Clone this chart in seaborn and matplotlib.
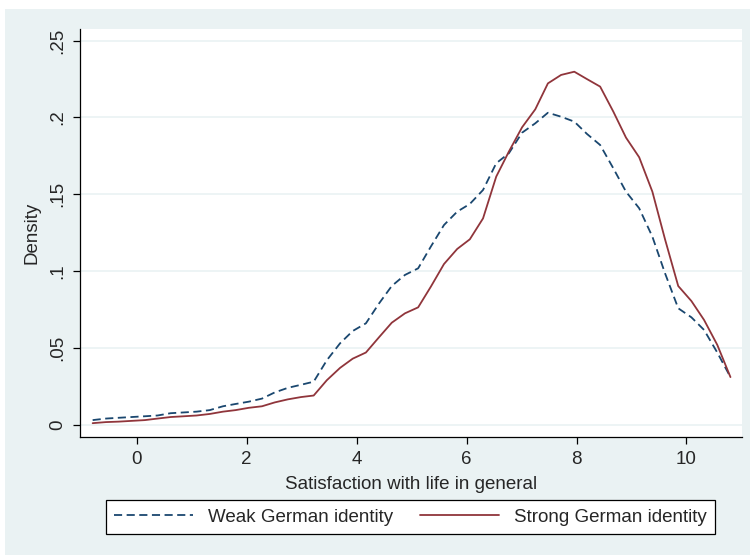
import pandas as pd
import matplotlib.pyplot as plt
import matplotlib.patches as mpatches
import seaborn as sns

# kernel density estimates (50 evaluation points)
x_points = [-0.80, -0.56, -0.33, -0.09, 0.15, 0.38, 0.62, 0.86, 1.09, 1.33,
            1.57, 1.80, 2.04, 2.28, 2.51, 2.75, 2.99, 3.22, 3.46, 3.70,
            3.93, 4.17, 4.41, 4.64, 4.88, 5.12, 5.35, 5.59, 5.83, 6.06,
            6.30, 6.54, 6.77, 7.01, 7.25, 7.48, 7.72, 7.96, 8.19, 8.43,
            8.67, 8.90, 9.14, 9.38, 9.61, 9.85, 10.09, 10.32, 10.56, 10.80]

weak_density = [0.003, 0.004, 0.0045, 0.005, 0.0055, 0.006, 0.0075, 0.008, 0.0085, 0.0095,
                0.012, 0.0135, 0.015, 0.017, 0.021, 0.024, 0.026, 0.028, 0.042, 0.053,
                0.061, 0.066, 0.079, 0.0903, 0.0975, 0.1018, 0.1159, 0.130, 0.1387, 0.1437,
                0.1528, 0.1702, 0.1767, 0.1901, 0.1962, 0.2031, 0.2005, 0.1973, 0.1893, 0.1821,
                0.1669, 0.1517, 0.1409, 0.1224, 0.0986, 0.0758, 0.0699, 0.0617, 0.047, 0.031]

strong_density = [0.001, 0.0017, 0.002, 0.0025, 0.003, 0.004, 0.005, 0.0055, 0.006, 0.007,
                  0.0085, 0.0095, 0.011, 0.012, 0.0145, 0.0165, 0.018, 0.019, 0.029, 0.037,
                  0.043, 0.047, 0.057, 0.0664, 0.0725, 0.0764, 0.0898, 0.1046, 0.1144, 0.1207,
                  0.1343, 0.1615, 0.1778, 0.1936, 0.2053, 0.2222, 0.2277, 0.2298, 0.225, 0.2201,
                  0.2038, 0.1869, 0.1741, 0.1517, 0.1207, 0.0903, 0.0805, 0.0682, 0.052, 0.031]

groups = ["Weak German identity", "Strong German identity"]
x_ticks = [0, 2, 4, 6, 8, 10]
y_ticks = [0, 0.05, 0.1, 0.15, 0.2, 0.25]
y_tick_labels = ["0", ".05", ".1", ".15", ".2", ".25"]

df = pd.concat([
    pd.DataFrame({"x": x_points, "density": weak_density, "group": groups[0]}),
    pd.DataFrame({"x": x_points, "density": strong_density, "group": groups[1]}),
])

sns.set_style("white")
plt.rcParams['font.family'] = ['Liberation Sans', 'DejaVu Sans']

bg = "#eaf2f3"
fs = 13.5
dash = (4.5, 2.5)
fig = plt.figure(figsize=(7.5, 5.55), dpi=100, facecolor="white")
fig.patches.append(mpatches.Rectangle((5 / 750, 0), 1, 1 - 9 / 555, transform=fig.transFigure,
                                      facecolor=bg, edgecolor="none", zorder=-10))
ax = fig.add_axes([80 / 750, 1 - 437 / 555, 662 / 750, 408 / 555])
ax.set_facecolor("white")

sns.lineplot(data=df, x="x", y="density", hue="group", style="group",
             hue_order=groups, style_order=groups,
             palette={groups[0]: "#1a476f", groups[1]: "#90353b"},
             dashes={groups[0]: dash, groups[1]: ""},
             linewidth=1.3, ax=ax, legend=False, zorder=3)

ax.set_xlim(-1.03, 11.01)
ax.set_ylim(-0.008, 0.2576)
ax.set_xticks(x_ticks)
ax.set_yticks(y_ticks)
ax.set_yticklabels(y_tick_labels, rotation=90, va="center")
ax.tick_params(axis="both", direction="out", length=5, width=0.9, color="black",
               labelsize=fs, pad=5, left=True, bottom=True)
ax.grid(axis="y", color=bg, linewidth=1.2, zorder=0)
ax.grid(axis="x", visible=False)
for side in ["top", "right"]:
    ax.spines[side].set_visible(False)
for side in ["left", "bottom"]:
    ax.spines[side].set_color("black")
    ax.spines[side].set_linewidth(0.9)

ax.set_xlabel("Satisfaction with life in general", fontsize=fs, labelpad=6)
ax.set_ylabel("Density", fontsize=fs, labelpad=6)

handles = [plt.Line2D([], [], color="#1a476f", linewidth=1.3, dashes=dash),
           plt.Line2D([], [], color="#90353b", linewidth=1.3)]
leg = fig.legend(handles, groups, loc="lower left", ncol=2, mode="expand",
                 bbox_to_anchor=(106 / 750, 1 - 534 / 555, 609 / 750, 36 / 555),
                 borderaxespad=0, fontsize=fs, handlelength=4.2, handletextpad=0.8,
                 borderpad=0.45, frameon=True, fancybox=False, framealpha=1)
leg.get_frame().set_edgecolor("black")
leg.get_frame().set_linewidth(0.9)

fig.savefig("out.png", dpi=100, facecolor=fig.get_facecolor())
